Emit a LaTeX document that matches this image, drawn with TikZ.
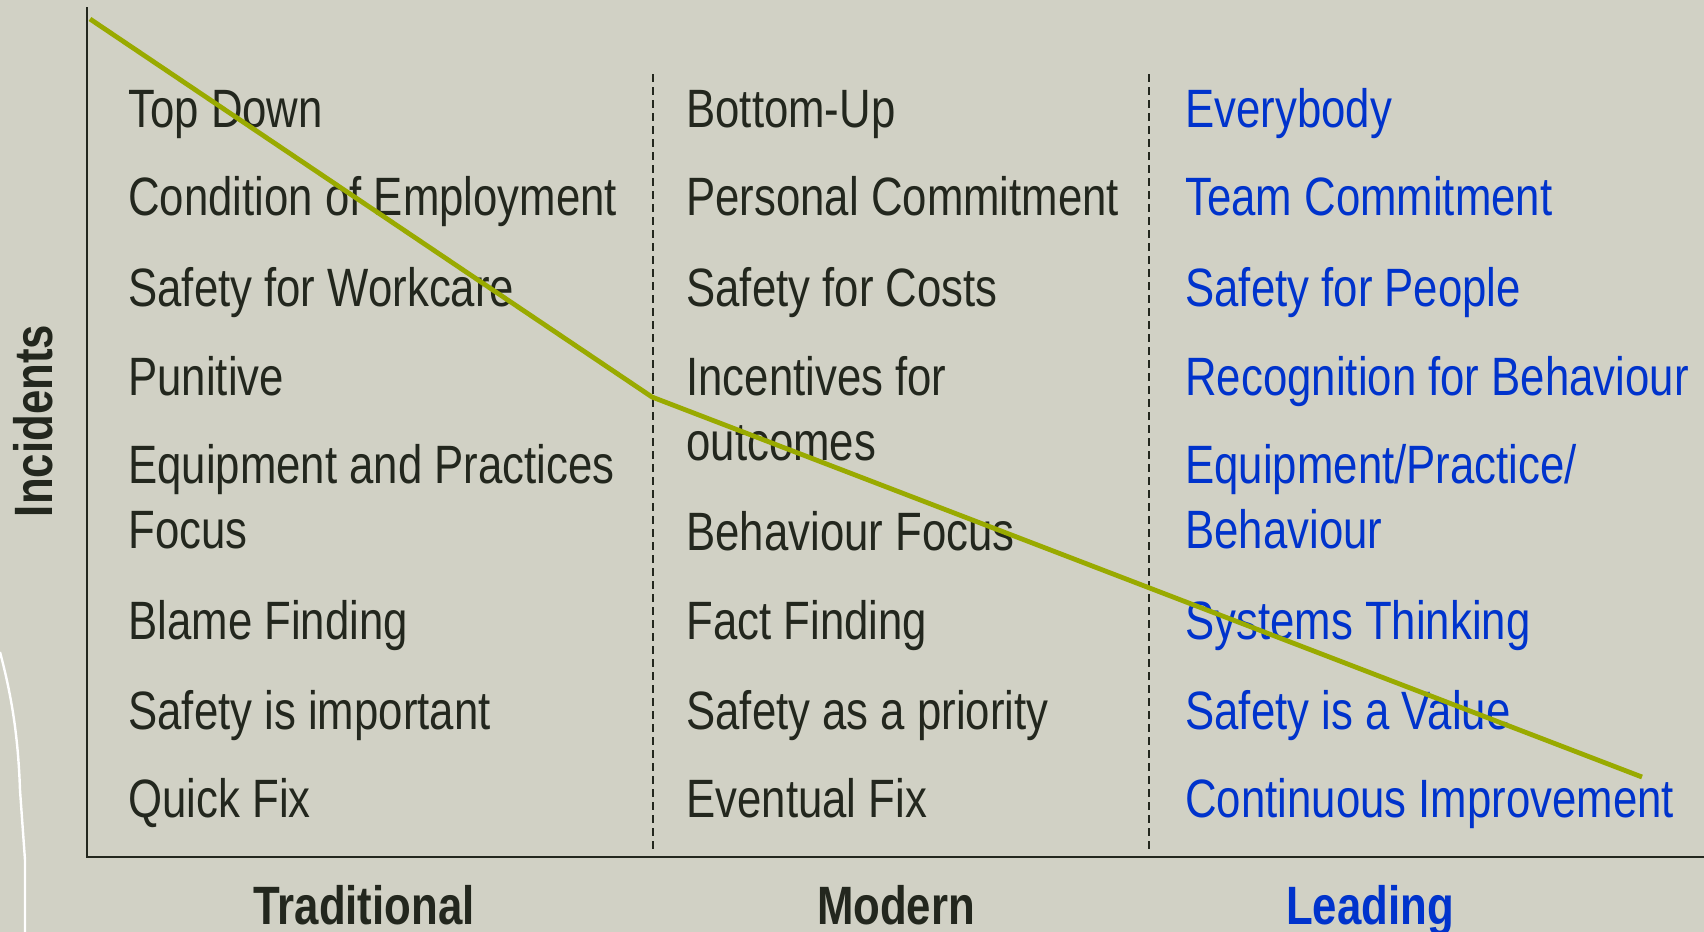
\documentclass[tikz,border=0pt]{standalone}
\usepackage{fontspec}
\setmainfont[FakeStretch=0.81]{Liberation Sans}
\definecolor{bg}{HTML}{D1D1C5}
\definecolor{ink}{HTML}{23271E}
\definecolor{lead}{HTML}{0033CC}
\definecolor{trend}{HTML}{99AA00}
\tikzset{
  item/.style={anchor=base west, inner sep=0pt, text=ink, font=\fontsize{27}{32}\selectfont},
  blueitem/.style={item, text=lead},
  axislabel/.style={anchor=base, inner sep=0pt, text=ink, font=\fontsize{27}{32}\selectfont\bfseries},
  axisline/.style={draw=ink, line width=1.4pt},
  divider/.style={draw=ink, line width=1pt, dash pattern=on 4pt off 2.5pt},
  trendline/.style={draw=trend, line width=2.4pt, line join=round}
}
\begin{document}
\begin{tikzpicture}[x=0.5pt,y=-0.5pt]
\fill[bg] (0,0) rectangle (1704,932);
\useasboundingbox (0,0) rectangle (1704,932);
% stray white curve
\draw[white, line width=1.2pt] (0,652) .. controls (10,690) and (18,730) .. (20,790) -- (25,860) -- (25,932);
% axes
\coordinate (ytop) at (87,7);
\coordinate (origin) at (87,857);
\coordinate (xend) at (1704,857);
\draw[axisline] (ytop) -- (origin) -- (xend);
% dividers
\coordinate (d1t) at (653,74); \coordinate (d1b) at (653,850);
\coordinate (d2t) at (1149,74); \coordinate (d2b) at (1149,850);
\draw[divider] (d1t) -- (d1b);
\draw[divider] (d2t) -- (d2b);
% axis labels
\node[anchor=center, rotate=90, inner sep=0pt, text=ink, font=\fontsize{27}{32}\selectfont\bfseries] (inc) at (33,421) {Incidents};
\node[axislabel] (trad) at (364,924) {Traditional};
\node[axislabel] (mod) at (896,924) {Modern};
\node[axislabel, text=lead] (leadl) at (1370,924) {Leading};
% left column
\node[item] (l1) at (128,127) {Top Down};
\node[item] (l2) at (128,215) {Condition of Employment};
\node[item] (l3) at (128,306) {Safety for Workcare};
\node[item] (l4) at (128,395) {Punitive};
\node[item] (l5) at (128,483) {Equipment and Practices};
\node[item] (l5b) at (128,548) {Focus};
\node[item] (l6) at (128,639) {Blame Finding};
\node[item] (l7) at (128,729) {Safety is important};
\node[item] (l8) at (128,817) {Quick Fix};
% middle column
\node[item] (m1) at (686,127) {Bottom-Up};
\node[item] (m2) at (686,215) {Personal Commitment};
\node[item] (m3) at (686,306) {Safety for Costs};
\node[item] (m4) at (686,395) {Incentives for};
\node[item] (m4b) at (686,460) {outcomes};
\node[item] (m5) at (686,550) {Behaviour Focus};
\node[item] (m6) at (686,639) {Fact Finding};
\node[item] (m7) at (686,729) {Safety as a priority};
\node[item] (m8) at (686,817) {Eventual Fix};
% right column
\node[blueitem] (r1) at (1185,127) {Everybody};
\node[blueitem] (r2) at (1185,215) {Team Commitment};
\node[blueitem] (r3) at (1185,306) {Safety for People};
\node[blueitem] (r4) at (1185,395) {Recognition for Behaviour};
\node[blueitem] (r5) at (1185,483) {Equipment/Practice/};
\node[blueitem] (r5b) at (1185,548) {Behaviour};
\node[blueitem] (r6) at (1185,639) {Systems Thinking};
\node[blueitem] (r7) at (1185,729) {Safety is a Value};
\node[blueitem] (r8) at (1185,817) {Continuous Improvement};
% trend line
\coordinate (t0) at (90,19);
\coordinate (t1) at (652,397);
\coordinate (t2) at (1642,777);
\draw[trendline] (t0) -- (t1) -- (t2);
\end{tikzpicture}
\end{document}
